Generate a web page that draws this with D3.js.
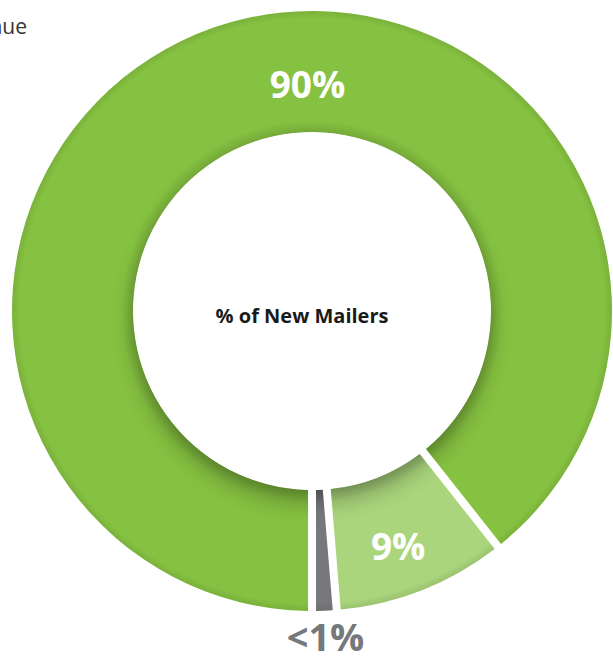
<!DOCTYPE html>
<html>
<head>
<meta charset="utf-8">
<script src="https://cdn.jsdelivr.net/npm/d3@7"></script>
<style>
  html, body { margin: 0; padding: 0; background: #ffffff; }
  svg { display: block; }
</style>
</head>
<body>
<svg id="chart" width="613" height="665"></svg>
<script>
// Share of new mailers by group
const categories = ["Core", "Secondary", "Other"];
const shares = [90, 9, 0.9];
const valueLabels = ["90%", "9%", "<1%"];
const sliceColors = ["#86c241", "#aad57c", "#77787c"];
const labelColors = ["#ffffff", "#ffffff", "#77787c"];
const centerTitle = "% of New Mailers";
const sideTitle = "% of Revenue";

const width = 613, height = 665;
const cx = 312, cy = 311;
const outerR = 300, innerR = 179;
const gapPx = 8;

const svg = d3.select("#chart");
const defs = svg.append("defs");

const pie = d3.pie()
  .sort(null)
  .value(d => d.value)
  .startAngle(Math.PI)
  .endAngle(3 * Math.PI)
  .padAngle(gapPx / outerR);

const arc = d3.arc()
  .innerRadius(innerR)
  .outerRadius(outerR)
  .padRadius(outerR);

const data = categories.map((c, i) => ({
  name: c, value: shares[i], label: valueLabels[i],
  color: sliceColors[i], labelColor: labelColors[i]
}));
const arcs = pie(data);

// clip region = the ring slices, used for the shading overlays
const clip = defs.append("clipPath").attr("id", "ring-clip");
clip.selectAll("path").data(arcs).join("path").attr("d", arc);

const blur = defs.append("filter").attr("id", "soft")
  .attr("x", "-30%").attr("y", "-30%").attr("width", "160%").attr("height", "160%");
blur.append("feGaussianBlur").attr("stdDeviation", 11);

const edge = defs.append("radialGradient").attr("id", "edge-shade")
  .attr("gradientUnits", "userSpaceOnUse")
  .attr("cx", 0).attr("cy", 0).attr("r", outerR);
[
  [innerR / outerR, 0.1],
  [(innerR + 12) / outerR, 0.0],
  [(outerR - 8) / outerR, 0.0],
  [1, 0.09]
].forEach(([o, a]) => edge.append("stop")
  .attr("offset", o).attr("stop-color", "#000").attr("stop-opacity", a));

const g = svg.append("g").attr("transform", `translate(${cx},${cy})`);

g.selectAll("path.slice")
  .data(arcs)
  .join("path")
  .attr("class", "slice")
  .attr("d", arc)
  .attr("fill", d => d.data.color);

// shading: shadow cast by the hole onto the ring plus soft edge darkening
const shade = g.append("g").attr("clip-path", "url(#ring-clip)");
shade.append("circle")
  .attr("cx", 0).attr("cy", 12).attr("r", innerR)
  .attr("fill", "#000").attr("opacity", 0.28)
  .attr("filter", "url(#soft)");
shade.append("circle")
  .attr("r", outerR).attr("fill", "url(#edge-shade)");

// hole
g.append("circle").attr("r", innerR - 0.5).attr("fill", "#ffffff");

// value labels
const labelPos = (d, i) => {
  if (i === 0) return d3.pointRadial(-0.02, 226);
  const mid = (d.startAngle + d.endAngle) / 2;
  return i === 2 ? d3.pointRadial(mid, 327) : d3.pointRadial(mid + 0.025, 251);
};

g.selectAll("text.value")
  .data(arcs)
  .join("text")
  .attr("class", "value")
  .attr("transform", (d, i) => `translate(${labelPos(d, i)})`)
  .attr("text-anchor", "middle")
  .attr("dy", "0.36em")
  .attr("font-family", "'Open Sans', sans-serif")
  .attr("font-weight", 700)
  .attr("font-size", (d, i) => i === 2 ? 38 : 37)
  .attr("fill", d => d.data.labelColor)
  .text(d => d.data.label);

g.append("text")
  .attr("x", -10).attr("y", 12)
  .attr("text-anchor", "middle")
  .attr("font-family", "'Open Sans', sans-serif")
  .attr("font-weight", 700)
  .attr("font-size", 20)
  .attr("fill", "#1a1a1a")
  .text(centerTitle);

svg.append("text")
  .attr("x", 27).attr("y", 34)
  .attr("text-anchor", "end")
  .attr("font-family", "'Open Sans', sans-serif")
  .attr("font-weight", 400)
  .attr("font-size", 21)
  .attr("fill", "#333333")
  .text(sideTitle);
</script>
</body>
</html>
